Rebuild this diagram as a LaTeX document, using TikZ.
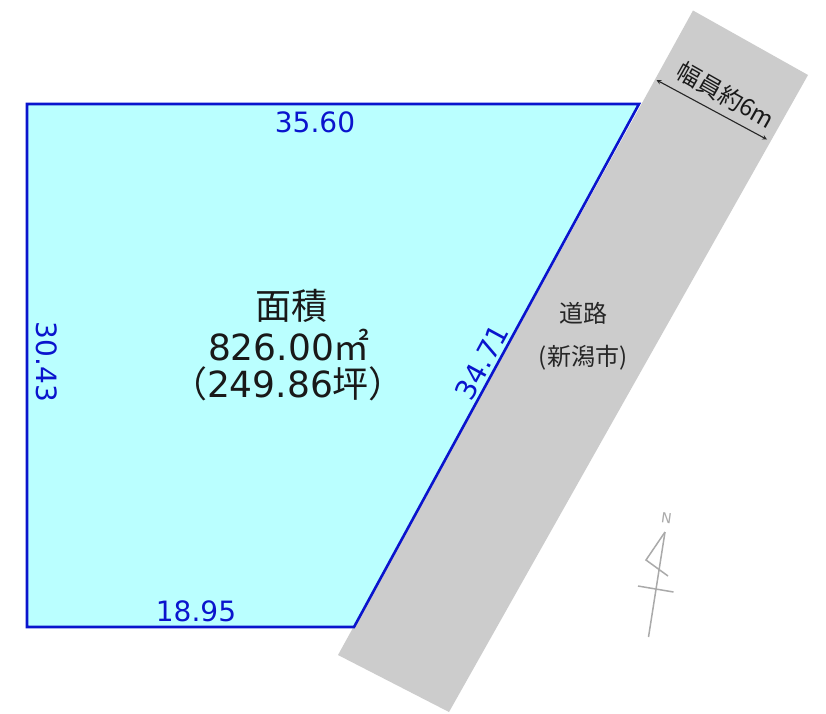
\documentclass[tikz,border=0pt]{standalone}
\usepackage{fontspec}
\setmainfont{DejaVu Sans}
\newfontfamily\cjk{Noto Sans CJK JP}
\definecolor{lotfill}{RGB}{186,255,255}
\definecolor{lotline}{RGB}{10,20,205}
\definecolor{roadfill}{RGB}{204,204,204}
\definecolor{compass}{RGB}{170,170,170}
\tikzset{
  dimlabel/.style={text=lotline,font=\fontsize{28}{30}\selectfont,inner sep=0pt},
  arealabel/.style={text=black!90,font=\fontsize{36}{38}\selectfont,align=center,inner sep=0pt},
  roadlabel/.style={text=black!85,font=\cjk\fontsize{24}{26}\selectfont,inner sep=0pt},
  widthlabel/.style={text=black!90,font=\cjk\fontsize{24}{26}\selectfont,inner sep=0pt,rotate=-29.5},
  compassline/.style={draw=compass,line width=1.5pt}
}
\begin{document}
\begin{tikzpicture}[x=1pt,y=-1pt]
\useasboundingbox (0,0) rectangle (826,713);
\fill[white] (0,0) rectangle (826,713);
% road
\fill[roadfill] (693,10.5) -- (808,75) -- (449,712) -- (338,655) -- cycle;
% lot
\draw[fill=lotfill,draw=lotline,line width=2.6pt,line join=miter]
  (27,104) -- (639,104) -- (354,627) -- (27,627) -- cycle;
% dimension labels
\node[dimlabel] (top) at (315,122) {35.60};
\node[dimlabel] (bottom) at (196,611) {18.95};
\node[dimlabel,rotate=-90] (left) at (47,362) {30.43};
\node[dimlabel,rotate=61.5] (diag) at (482,362) {34.71};
% area
\node[arealabel] (area1) at (291,306) {{\cjk 面積}};
\node[arealabel] (area2) at (289,345) {826.00{\cjk ㎡}};
\node[arealabel] (area3) at (288,384) {{\cjk （}249.86{\cjk 坪）}};
% road labels
\node[roadlabel] (road1) at (583,313) {道路};
\node[roadlabel] (road2) at (583,358) {(新潟市)};
% width
\node[widthlabel] (width) at (726,95) {幅員約6m};
\coordinate (wa) at (656.5,80);
\coordinate (wb) at (767,139.5);
\draw[<->,>=stealth,black!85,line width=1.1pt] (wa) -- (wb);
% north mark
\node[text=compass,font=\fontsize{14}{15}\selectfont,rotate=-8,inner sep=0pt] (north) at (666.5,518.5) {N};
\coordinate (ntip) at (665,532);
\coordinate (ntail) at (648.5,637);
\coordinate (nleft) at (646,560);
\coordinate (nend) at (668,576);
\coordinate (cl) at (638,586);
\coordinate (cr) at (673.5,592);
\draw[compassline] (ntip) -- (ntail);
\draw[compassline] (ntip) -- (nleft) -- (nend);
\draw[compassline] (cl) -- (cr);
\end{tikzpicture}
\end{document}
